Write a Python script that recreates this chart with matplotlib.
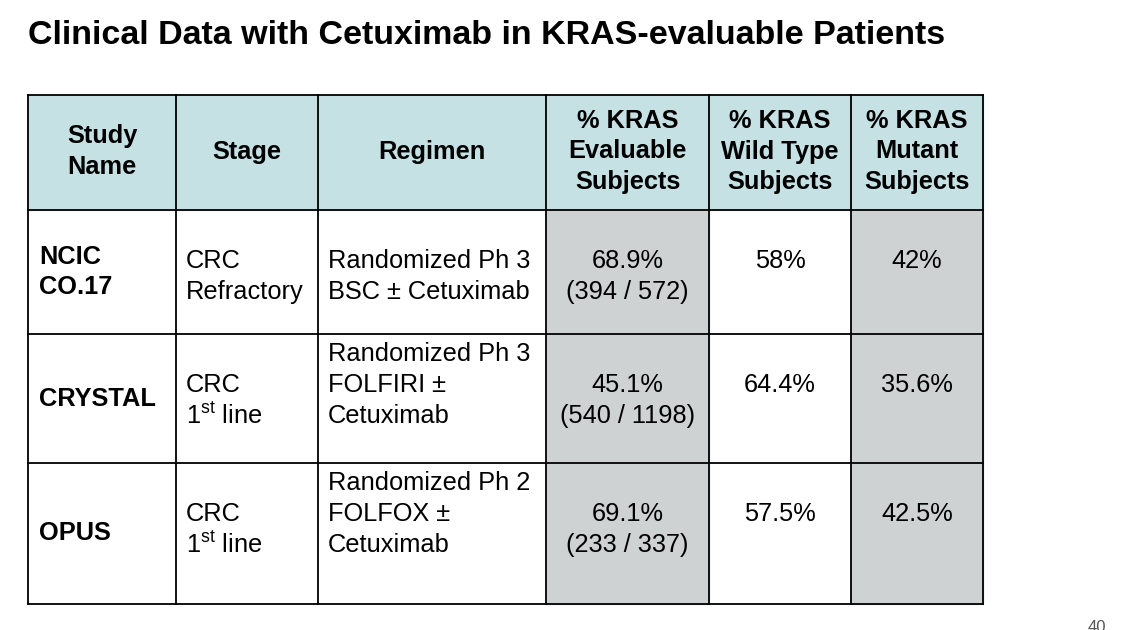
import matplotlib
matplotlib.use("Agg")
import matplotlib.pyplot as plt
from matplotlib.patches import Rectangle

plt.rcParams["font.family"] = "Liberation Sans"
plt.rcParams["mathtext.fontset"] = "custom"
plt.rcParams["mathtext.rm"] = "Liberation Sans"

title = "Clinical Data with Cetuximab in KRAS-evaluable Patients"
headers = ["Study\nName", "Stage", "Regimen", "% KRAS\nEvaluable\nSubjects",
           "% KRAS\nWild Type\nSubjects", "% KRAS\nMutant\nSubjects"]
study = ["NCIC\nCO.17", "CRYSTAL", "OPUS"]
stage = ["CRC\nRefractory", "CRC\n1$^{\\rm st}$ line", "CRC\n1$^{\\rm st}$ line"]
regimen = ["Randomized Ph 3\nBSC ± Cetuximab", "Randomized Ph 3\nFOLFIRI ±\nCetuximab",
           "Randomized Ph 2\nFOLFOX ±\nCetuximab"]
evaluable = ["68.9%\n(394 / 572)", "45.1%\n(540 / 1198)", "69.1%\n(233 / 337)"]
wild_type = ["58%", "64.4%", "57.5%"]
mutant = ["42%", "35.6%", "42.5%"]

col_x = [28, 176, 318, 546, 709, 851, 983]
row_y = [95, 210, 334, 463, 604]
header_bg = "#c5e1e4"
gray_bg = "#cfd2d3"
gray_cols = [3, 5]
fs = 18.3
lh = 31

fig = plt.figure(figsize=(11.41, 6.30), dpi=100)
ax = fig.add_axes([0, 0, 1, 1])
ax.set_xlim(0, 1141); ax.set_ylim(630, 0); ax.axis("off")

ax.text(28, 35, title, fontsize=24.5, fontweight="bold", va="center", ha="left")

for c in range(6):
    ax.add_patch(Rectangle((col_x[c], row_y[0]), col_x[c+1]-col_x[c], row_y[1]-row_y[0],
                           color=header_bg, zorder=0))
    if c in gray_cols:
        ax.add_patch(Rectangle((col_x[c], row_y[1]), col_x[c+1]-col_x[c], row_y[-1]-row_y[1],
                               color=gray_bg, zorder=0))
for x in col_x:
    ax.plot([x, x], [row_y[0], row_y[-1]], color="black", lw=1.3)
for y in row_y:
    ax.plot([col_x[0], col_x[-1]], [y, y], color="black", lw=1.3)

def lines_block(x, ymid, s, ha, bold):
    ls = s.split("\n")
    y0 = ymid - lh*(len(ls)-1)/2
    for i, ln in enumerate(ls):
        ax.text(x, y0 + lh*i, ln, ha=ha, va="center", fontsize=fs,
                fontweight="bold" if bold else "normal")

for c, h in enumerate(headers):
    lines_block((col_x[c]+col_x[c+1])/2, (row_y[0]+row_y[1])/2 - 1, h, "center", True)

cols = [study, stage, regimen, evaluable, wild_type, mutant]
for r in range(3):
    top = row_y[r+1]
    ymid = (row_y[r+1]+row_y[r+2])/2
    lines_block(col_x[0]+11, ymid, study[r], "left", True)
    for c in range(1, 6):
        lines = cols[c][r].split("\n")
        start = 0 if (c == 2 and len(lines) == 3) else 1
        for i, ln in enumerate(lines):
            y = top + 20 + lh*(start+i)
            if c <= 2:
                ax.text(col_x[c]+10, y, ln, ha="left", va="center", fontsize=fs)
            else:
                ax.text((col_x[c]+col_x[c+1])/2, y, ln, ha="center", va="center", fontsize=fs)

ax.text(1097, 620, "40", fontsize=12, color="#555555", va="top", ha="center")
fig.savefig("out.png", dpi=100)
